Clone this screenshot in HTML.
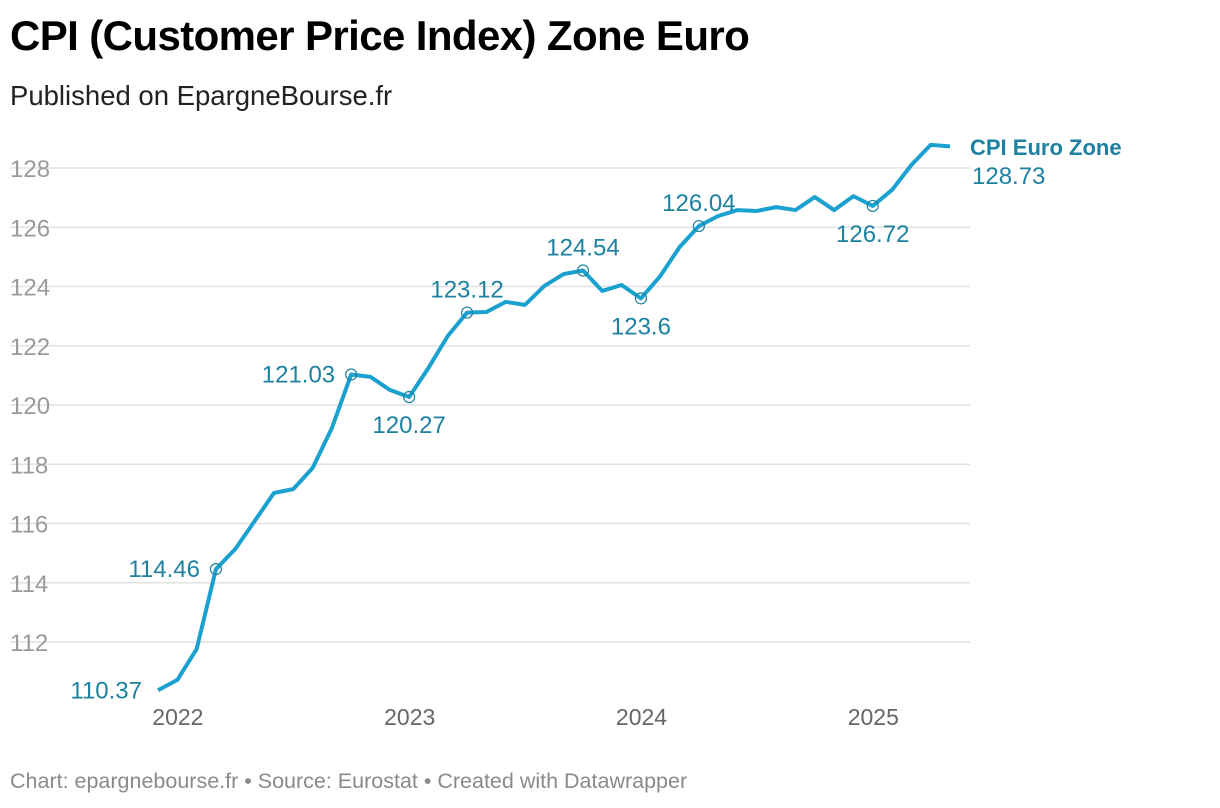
<!DOCTYPE html>
<html><head><meta charset="utf-8"><style>
body{margin:0;background:#fff;width:1220px;height:808px;overflow:hidden;font-family:"Liberation Sans",sans-serif}
#title{position:absolute;left:10px;top:12px;font-size:42px;font-weight:bold;color:#000;letter-spacing:-0.6px}
#sub{position:absolute;left:10px;top:80px;font-size:27.5px;color:#222}
#foot{position:absolute;left:10px;top:769px;font-size:21.5px;color:#8a8a8a}
svg{position:absolute;left:0;top:0}
</style></head><body>
<div id="title">CPI (Customer Price Index) Zone Euro</div>
<div id="sub">Published on EpargneBourse.fr</div>
<div id="foot">Chart: epargnebourse.fr • Source: Eurostat • Created with Datawrapper</div>
<svg id="chart" width="1220" height="808"></svg>
<script>
const values=[110.37,110.72,111.76,114.46,115.14,116.08,117.03,117.16,117.87,119.22,121.03,120.95,120.51,120.27,121.25,122.33,123.12,123.14,123.48,123.38,124.02,124.42,124.54,123.85,124.05,123.6,124.35,125.33,126.04,126.38,126.58,126.55,126.68,126.58,127.02,126.58,127.05,126.72,127.26,128.1,128.78,128.73];
const yTicks=[112,114,116,118,120,122,124,126,128];
const xTickLabels=["2022","2023","2024","2025"];
const xTickIndex=[1,13,25,37];
const annotIndex=[0,3,10,13,16,22,25,28,37];
const annotPos=["left","left","left","below","above","above","below","above","below"];
const NS="http://www.w3.org/2000/svg";
const svg=document.getElementById('chart');
function x(i){return 158+i*19.317;}
function y(v){return 168+(128-v)*29.625;}
function mk(t,a,txt){const e=document.createElementNS(NS,t);for(const k in a)e.setAttribute(k,a[k]);if(txt!==undefined)e.textContent=txt;svg.appendChild(e);return e;}
yTicks.forEach(t=>{
 const l=mk('line',{x1:10,x2:970,y1:y(t),y2:y(t),stroke:'#e2e2e2','stroke-width':1.5});
 
 
 const tx=mk('text',{x:10,y:y(t)+9,'font-size':24,fill:'#9a9a9a','font-family':'Liberation Sans'},String(t));
 
 
});
xTickLabels.forEach((lab,k)=>{
 const tx=mk('text',{x:x(xTickIndex[k]+0.03),y:725,'font-size':23,fill:'#666','text-anchor':'middle','font-family':'Liberation Sans'},lab);
 
 
});
const p=mk('polyline',{points:values.map((v,i)=>x(i)+','+y(v)).join(' '),fill:'none',stroke:'#1ba1cf','stroke-width':4,'stroke-linejoin':'round'});


annotIndex.forEach((i,k)=>{
 const cx=x(i),cy=y(values[i]);
 if(i>0){const c=mk('circle',{cx:cx,cy:cy,r:5.5,fill:'none',stroke:'#1d81a2','stroke-width':1.2});
 
 }
 let tx,ty,anc;
 const pos=annotPos[k];
 if(pos==='left'){tx=cx-16;ty=cy+8;anc='end';}
 else if(pos==='above'){tx=cx;ty=cy-15;anc='middle';}
 else {tx=cx;ty=cy+36;anc='middle';}
 const t=mk('text',{x:tx,y:ty,'font-size':24,fill:'#1d81a2','text-anchor':anc,'font-family':'Liberation Sans'},String(values[i]));
 
 
});
const last=values.length-1;
const ln=mk('text',{x:970,y:155,'font-size':22,'font-weight':'bold',fill:'#1d81a2','font-family':'Liberation Sans'},'CPI Euro Zone');


const lv=mk('text',{x:972,y:184,'font-size':24,fill:'#1d81a2','font-family':'Liberation Sans'},String(values[last]));


</script>
</body></html>
